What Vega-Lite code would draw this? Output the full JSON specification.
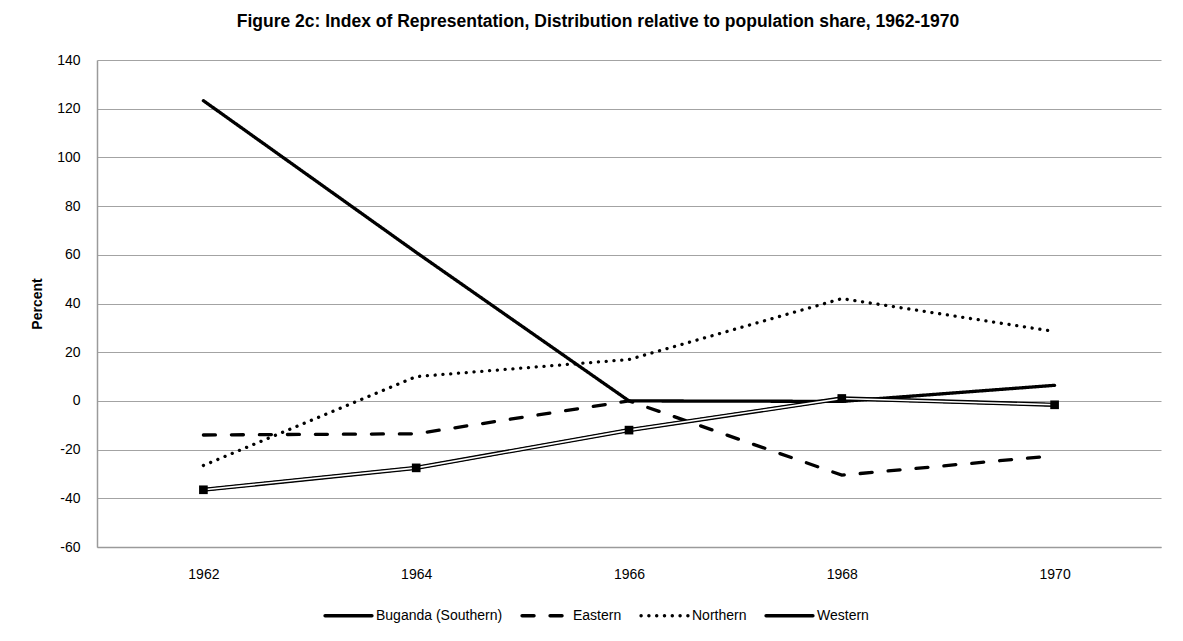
{
  "$schema": "https://vega.github.io/schema/vega-lite/v6.json",
  "autosize": {"type": "none"},
  "width": 1064,
  "height": 487,
  "padding": {"left": 97, "top": 60, "right": 22, "bottom": 94},
  "background": "white",
  "config": {
    "font": "Liberation Sans",
    "view": {"stroke": null},
    "axis": {"labelFont": "Liberation Sans", "titleFont": "Liberation Sans", "labelColor": "#000000", "titleColor": "#000000"}
  },
  "title": {
    "text": "Figure 2c: Index of Representation, Distribution relative to population share, 1962-1970",
    "fontSize": 17.5,
    "fontWeight": "bold",
    "color": "#000000",
    "anchor": "middle",
    "frame": "group",
    "dx": -31,
    "offset": 23
  },
  "data": {
    "values": [
      {"year": "1962", "series": "Buganda (Southern)", "value": 123.3},
      {"year": "1964", "series": "Buganda (Southern)", "value": 61},
      {"year": "1966", "series": "Buganda (Southern)", "value": 0},
      {"year": "1968", "series": "Buganda (Southern)", "value": -0.2},
      {"year": "1970", "series": "Buganda (Southern)", "value": 6.4},
      {"year": "1962", "series": "Eastern", "value": -14},
      {"year": "1964", "series": "Eastern", "value": -13.5},
      {"year": "1966", "series": "Eastern", "value": 0},
      {"year": "1968", "series": "Eastern", "value": -30.5},
      {"year": "1970", "series": "Eastern", "value": -22.5},
      {"year": "1962", "series": "Northern", "value": -26.5},
      {"year": "1964", "series": "Northern", "value": 10},
      {"year": "1966", "series": "Northern", "value": 17},
      {"year": "1968", "series": "Northern", "value": 42},
      {"year": "1970", "series": "Northern", "value": 28.5},
      {"year": "1962", "series": "Western", "value": -36.5},
      {"year": "1964", "series": "Western", "value": -27.5},
      {"year": "1966", "series": "Western", "value": -12},
      {"year": "1968", "series": "Western", "value": 1},
      {"year": "1970", "series": "Western", "value": -1.6}
    ]
  },
  "encoding": {
    "x": {
      "field": "year",
      "type": "ordinal",
      "scale": {"type": "point", "padding": 0.5},
      "axis": {
        "title": null,
        "labelAngle": 0,
        "labelFontSize": 14,
        "labelPadding": 20,
        "ticks": false,
        "grid": false,
        "domain": true,
        "domainColor": "#9a9a9a",
        "domainWidth": 1.5
      }
    },
    "y": {
      "field": "value",
      "type": "quantitative",
      "scale": {"domain": [-60, 140], "nice": false, "zero": false},
      "axis": {
        "title": "Percent",
        "titleFontSize": 14,
        "titleFontWeight": "bold",
        "titlePadding": 12,
        "values": [-60, -40, -20, 0, 20, 40, 60, 80, 100, 120, 140],
        "labelExpr": "'' + datum.value",
        "labelFontSize": 14,
        "labelPadding": 17,
        "ticks": false,
        "grid": true,
        "gridColor": "#a3a3a3",
        "gridWidth": 1,
        "domain": true,
        "domainColor": "#9a9a9a",
        "domainWidth": 1.5
      }
    }
  },
  "layer": [
    {
      "mark": {"type": "line", "color": "#000000", "strokeCap": "round", "strokeWidth": 3.3},
      "encoding": {
        "strokeDash": {
          "field": "series",
          "type": "nominal",
          "scale": {
            "domain": ["Buganda (Southern)", "Eastern", "Northern", "Western"],
            "range": [[1, 0], [12, 16], [0.1, 7.7], [1, 0]]
          },
          "legend": {
            "title": null,
            "orient": "none",
            "direction": "horizontal",
            "legendX": 226,
            "legendY": 530,
            "symbolType": "stroke",
            "symbolSize": 2200,
            "symbolStrokeColor": "#000000",
            "symbolStrokeWidth": 3.4,
            "labelFontSize": 14,
            "labelColor": "#000000",
            "labelOffset": 2,
            "columnPadding": 12,
            "padding": 0,
            "encode": {"symbols": {"update": {"strokeCap": {"value": "round"}, "strokeWidth": {"value": 3.4}, "stroke": {"value": "#000000"}}}}
          }
        }
      }
    },
    {
      "transform": [{"filter": "datum.series === 'Western'"}],
      "mark": {"type": "line", "color": "#000000", "strokeWidth": 4.2},
      "encoding": {}
    },
    {
      "transform": [{"filter": "datum.series === 'Western'"}],
      "mark": {"type": "line", "color": "#ffffff", "strokeWidth": 1.6},
      "encoding": {}
    },
    {
      "transform": [{"filter": "datum.series === 'Western'"}],
      "mark": {"type": "point", "shape": "square", "filled": true, "color": "#000000", "size": 75, "opacity": 1},
      "encoding": {}
    }
  ]
}
